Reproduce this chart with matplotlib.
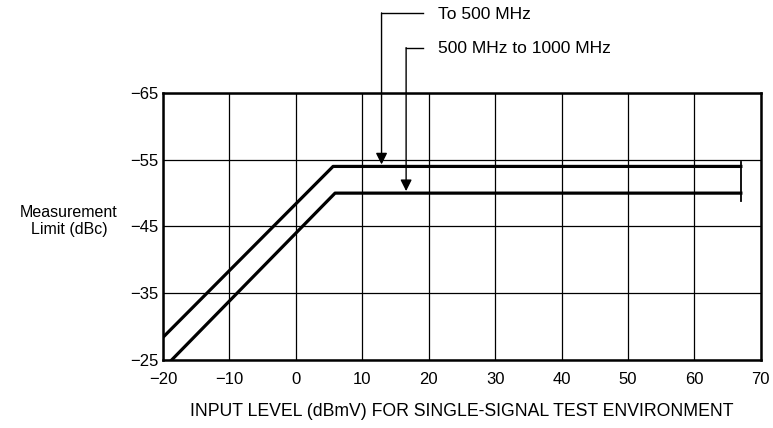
import numpy as np
import matplotlib.pyplot as plt

plt.rcParams['font.family'] = ['Liberation Sans', 'DejaVu Sans']

# curve data (x = input level dBmV, y = measurement limit dBc)
x_low = [-20, 5.6, 67]
y_low = [-28.4, -54, -54]          # To 500 MHz
x_high = [-18.7, 5.9, 67]
y_high = [-25, -50, -50]           # 500 MHz to 1000 MHz
end_bar_x = 67
end_bar_y = [-54.6, -48.8]

x_ticks = [-20, -10, 0, 10, 20, 30, 40, 50, 60, 70]
y_ticks = [-65, -55, -45, -35, -25]
labels = ['To 500 MHz', '500 MHz to 1000 MHz']
arrow_x = [12.9, 16.6]
arrow_top = [-77.0, -71.8]
arrow_tip = [-54, -50]

fig = plt.figure(figsize=(7.73, 4.28), dpi=100)
ax = fig.add_axes([0.2109, 0.1589, 0.7733, 0.6238])

for v in x_ticks:
    ax.axvline(v, color='black', lw=0.9, zorder=1)
for v in y_ticks:
    ax.axhline(v, color='black', lw=0.9, zorder=1)

ax.plot(x_low, y_low, color='black', lw=2.3, zorder=3)
ax.plot(x_high, y_high, color='black', lw=2.3, zorder=3)
ax.plot([end_bar_x, end_bar_x], end_bar_y, color='black', lw=1.3, zorder=3)

ax.set_xlim(-20, 70)
ax.set_ylim(-25, -65)
ax.set_xticks(x_ticks)
ax.set_yticks(y_ticks)
ax.tick_params(length=0, labelsize=12)
ax.tick_params(axis='x', pad=9)
ax.tick_params(axis='y', pad=3)
for s in ax.spines.values():
    s.set_linewidth(1.8)

# callouts
for lab, xa, yt, ytip in zip(labels, arrow_x, arrow_top, arrow_tip):
    ax.plot([xa, 19.2], [yt, yt], color='black', lw=1.0, clip_on=False)
    ax.annotate('', xy=(xa, ytip - 0.3), xytext=(xa, yt),
                arrowprops=dict(arrowstyle='-|>', color='black', lw=1.0,
                                mutation_scale=17, shrinkA=0, shrinkB=0),
                annotation_clip=False)
    ax.text(21.4, yt + 0.2, lab, fontsize=12.5, ha='left', va='center',
            clip_on=False)

ax.set_xlabel('INPUT LEVEL (dBmV) FOR SINGLE-SIGNAL TEST ENVIRONMENT',
              fontsize=12.7, labelpad=11)
fig.text(69 / 773, 1 - 221 / 428, 'Measurement\nLimit (dBc)', fontsize=11.5,
         ha='center', va='center', multialignment='center', linespacing=1.1)

fig.savefig('out.png', dpi=100)
